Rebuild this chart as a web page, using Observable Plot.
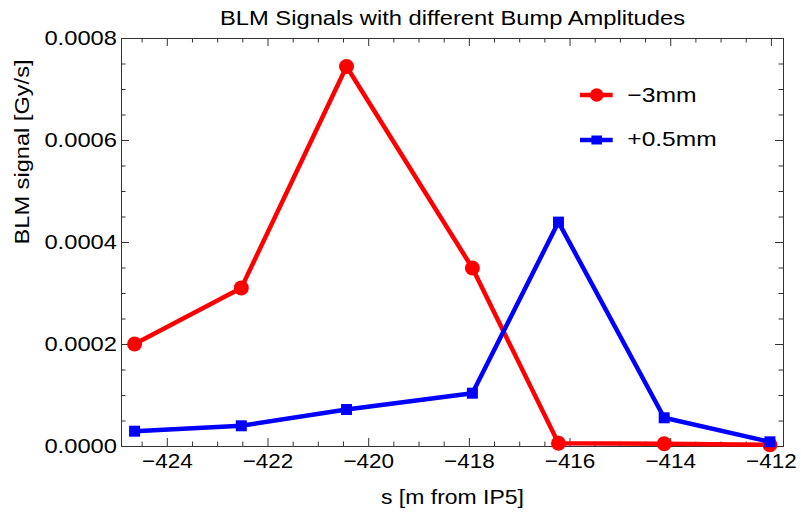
<!DOCTYPE html>
<html><head><meta charset="utf-8">
<script src="https://cdn.jsdelivr.net/npm/d3@7"></script>
<script src="https://cdn.jsdelivr.net/npm/@observablehq/plot@0.6"></script>
<style>
body{margin:0;background:#fff;}
#wrap{position:relative;width:801px;height:518px;font-family:"Liberation Sans",Arial,sans-serif;}
#wrap svg{position:absolute;left:0;top:0;}
</style></head><body><div id="wrap"></div>
<script>
const title = "BLM Signals with different Bump Amplitudes";
const xLabel = "s [m from IP5]";
const yLabel = "BLM signal [Gy/s]";
const seriesNames = ["\u22123mm", "+0.5mm"];
const seriesColors = ["#ff0000", "#0000ff"];
const positions = [-424.65, -422.53, -420.44, -417.94, -416.23, -414.13, -412.03];
const redValues = [0.000201, 0.000311, 0.000745, 0.00035, 0.0000065, 0.0000053, 0.0000033];
const blueValues = [0.00003, 0.0000406, 0.0000725, 0.0001045, 0.00044, 0.0000563, 0.0000092];
const xTicks = [-424, -422, -420, -418, -416, -414, -412];
const xMinorTicks = [-424.5, -423.5, -423, -422.5, -421.5, -421, -420.5, -419.5, -419, -418.5, -417.5, -417, -416.5, -415.5, -415, -414.5, -413.5, -413, -412.5];
const yTicks = [0, 0.0002, 0.0004, 0.0006, 0.0008];
const yMinorTicks = [0.00005, 0.0001, 0.00015, 0.00025, 0.0003, 0.00035, 0.00045, 0.0005, 0.00055, 0.00065, 0.0007, 0.00075];

const redData = positions.map((s, i) => ({s, v: redValues[i]}));
const blueData = positions.map((s, i) => ({s, v: blueValues[i]}));

const W = 801, H = 518, mL = 121, mR = 18, mT = 38, mB = 72;
const pw = W - mL - mR, ph = H - mT - mB;
const major = 8, minor = 4.5, frameColor = "#333";

const chart = Plot.plot({
  width: W, height: H,
  marginLeft: mL, marginRight: mR, marginTop: mT, marginBottom: mB,
  style: {fontFamily: "'Liberation Sans', Arial, sans-serif", background: "transparent", color: "#000"},
  x: {domain: [-424.91, -411.76]},
  y: {domain: [0, 0.0008]},
  marks: [
    Plot.tickX(xTicks, {x: d => d, insetTop: ph - major, stroke: frameColor}),
    Plot.tickX(xTicks, {x: d => d, insetBottom: ph - major, stroke: frameColor}),
    Plot.tickX(xMinorTicks, {x: d => d, insetTop: ph - minor, stroke: frameColor}),
    Plot.tickX(xMinorTicks, {x: d => d, insetBottom: ph - minor, stroke: frameColor}),
    Plot.tickY(yTicks, {y: d => d, insetRight: pw - major, stroke: frameColor}),
    Plot.tickY(yTicks, {y: d => d, insetLeft: pw - major, stroke: frameColor}),
    Plot.tickY(yMinorTicks, {y: d => d, insetRight: pw - minor, stroke: frameColor}),
    Plot.tickY(yMinorTicks, {y: d => d, insetLeft: pw - minor, stroke: frameColor}),
    Plot.frame({stroke: frameColor}),
    Plot.axisX(xTicks, {tickSize: 0, tickPadding: 7, fontSize: 21, tickFormat: d3.format("d"), label: null}),
    Plot.axisY(yTicks, {tickSize: 0, tickPadding: 4.5, fontSize: 21, tickFormat: d3.format(".4f"), label: null}),
    Plot.line(redData, {x: "s", y: "v", stroke: seriesColors[0], strokeWidth: 4.5}),
    Plot.dot(redData, {x: "s", y: "v", r: 7.5, fill: seriesColors[0]}),
    Plot.line(blueData, {x: "s", y: "v", stroke: seriesColors[1], strokeWidth: 4.5}),
    Plot.dot(blueData, {x: "s", y: "v", r: 6.2, symbol: "square", fill: seriesColors[1]}),
    Plot.text([title], {frameAnchor: "top", dy: -20.2, fontSize: 19.5, lineAnchor: "middle"}),
    Plot.text([xLabel], {frameAnchor: "bottom", dy: 50.3, fontSize: 21, lineAnchor: "middle"}),
    Plot.text([yLabel], {frameAnchor: "left", dx: -99.5, dy: 2, fontSize: 21, lineAnchor: "middle", rotate: -90})
  ]
});
const wrap = document.getElementById("wrap");
wrap.appendChild(chart);

// legend
const leg = d3.select(wrap).append("svg").attr("width", W).attr("height", H)
  .style("font-family", "'Liberation Sans', Arial, sans-serif");
const legItems = [
  {name: seriesNames[0], color: seriesColors[0], y: 95, ty: 101.7, shape: "circle", w: 69.4},
  {name: seriesNames[1], color: seriesColors[1], y: 140, ty: 145.5, shape: "square", w: 89.4}
];
legItems.forEach(it => {
  leg.append("line").attr("x1", 580).attr("x2", 612.7).attr("y1", it.y).attr("y2", it.y)
    .attr("stroke", it.color).attr("stroke-width", 4.5);
  if (it.shape === "circle") leg.append("circle").attr("cx", 596.7).attr("cy", it.y).attr("r", 6.7).attr("fill", it.color);
  else leg.append("rect").attr("x", 596.7 - 5.3).attr("y", it.y - 4.5).attr("width", 10.6).attr("height", 9).attr("fill", it.color);
  leg.append("text").attr("x", 627.3).attr("y", it.ty).attr("font-size", 21).attr("fill", "#000")
    .attr("class", "legtext").attr("data-w", it.w).text(it.name);
});

// stretch text horizontally to match reference glyph widths
function setLen(el, target) {
  el.setAttribute("textLength", target);
  el.setAttribute("lengthAdjust", "spacingAndGlyphs");
}
wrap.querySelectorAll("text").forEach(el => {
  const t = el.textContent;
  const g = el.closest("g");
  const al = g ? (g.getAttribute("aria-label") || "") : "";
  const w = el.getComputedTextLength();
  if (t === title) setLen(el, 465);
  else if (t === xLabel) setLen(el, 143);
  else if (t === yLabel) setLen(el, 185);
  else if (el.classList.contains("legtext")) setLen(el, +el.getAttribute("data-w"));
  else if (al.startsWith("y-axis")) setLen(el, w * 1.13);
  else if (al.startsWith("x-axis")) setLen(el, w * 1.07);
});
</script></body></html>
